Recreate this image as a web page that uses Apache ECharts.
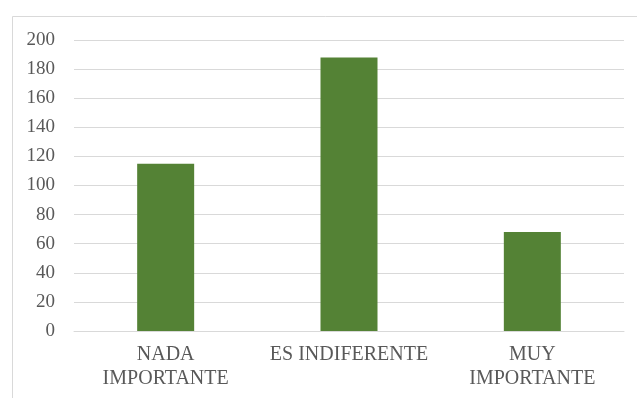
<!DOCTYPE html>
<html>
<head>
<meta charset="utf-8">
<script src="https://cdn.jsdelivr.net/npm/echarts@6/dist/echarts.min.js"></script>
<style>
  html, body { margin: 0; padding: 0; background: #ffffff; }
  #chart { width: 637px; height: 398px; }
</style>
</head>
<body>
<div id="chart"></div>
<script>
// Survey answers and their counts
var categories = ['NADA\nIMPORTANTE', 'ES INDIFERENTE', 'MUY\nIMPORTANTE'];
var counts = [115, 188, 68];
var yTicks = { min: 0, max: 200, interval: 20 };

var chart = echarts.init(document.getElementById('chart'), null, { renderer: 'canvas' });

var textColor = '#595959';
var lineColor = '#d9d9d9';
var fontFamily = '"Liberation Serif", "Times New Roman", serif';

chart.setOption({
  animation: false,
  backgroundColor: '#ffffff',
  graphic: [{
    type: 'rect',
    left: 10,
    top: 14,
    shape: { width: 700, height: 500 },
    style: { fill: 'none', stroke: lineColor, lineWidth: 1 },
    silent: true
  }],
  grid: { left: 74, right: 13, top: 40, bottom: 67 },
  xAxis: {
    type: 'category',
    data: categories,
    axisTick: { show: false },
    axisLine: { lineStyle: { color: lineColor, width: 1 } },
    axisLabel: {
      color: textColor,
      fontFamily: fontFamily,
      fontSize: 20,
      lineHeight: 24,
      margin: 12,
      interval: 0
    }
  },
  yAxis: {
    type: 'value',
    min: yTicks.min,
    max: yTicks.max,
    interval: yTicks.interval,
    axisLine: { show: false },
    axisTick: { show: false },
    splitLine: { lineStyle: { color: lineColor, width: 1 } },
    axisLabel: {
      color: textColor,
      fontFamily: fontFamily,
      fontSize: 19,
      margin: 19
    }
  },
  series: [{
    type: 'bar',
    data: counts,
    barWidth: 57,
    itemStyle: { color: '#548235' }
  }]
});
</script>
</body>
</html>
